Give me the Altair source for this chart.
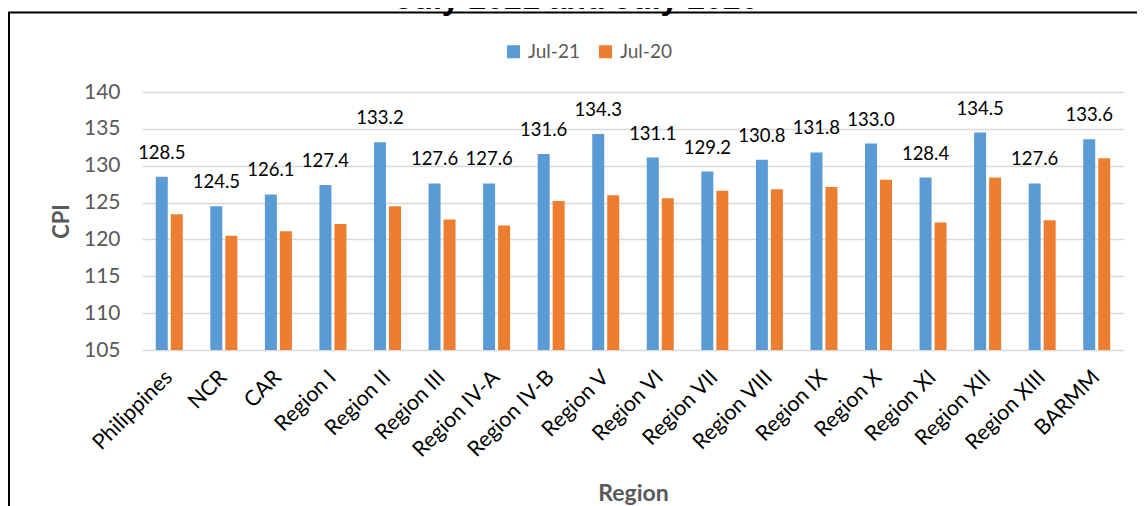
import altair as alt
import pandas as pd

regions = ["Philippines", "NCR", "CAR", "Region I", "Region II", "Region III",
           "Region IV-A", "Region IV-B", "Region V", "Region VI", "Region VII",
           "Region VIII", "Region IX", "Region X", "Region XI", "Region XII",
           "Region XIII", "BARMM"]
jul21 = [128.5, 124.5, 126.1, 127.4, 133.2, 127.6, 127.6, 131.6, 134.3, 131.1,
         129.2, 130.8, 131.8, 133.0, 128.4, 134.5, 127.6, 133.6]
jul20 = [123.4, 120.5, 121.1, 122.1, 124.5, 122.7, 121.9, 125.2, 126.0, 125.6,
         126.6, 126.8, 127.1, 128.1, 122.3, 128.4, 122.6, 131.0]
series = ["Jul-21", "Jul-20"]
colors = ["#5B9BD5", "#ED7D31"]
y_ticks = [105, 110, 115, 120, 125, 130, 135, 140]
title_text = "July 2021 and July 2020"

rows = []
for r, a, b in zip(regions, jul21, jul20):
    rows.append({"Region": r, "Series": "Jul-21", "CPI": a})
    rows.append({"Region": r, "Series": "Jul-20", "CPI": b})
df = pd.DataFrame(rows)

W, H = 982, 258
FONT = "Lato"
GREY = "#595959"

x_enc = alt.X("Region:N", sort=regions,
              scale=alt.Scale(paddingInner=0.45, paddingOuter=0.225),
              axis=alt.Axis(title="Region", labelAngle=-45, labelAlign="right",
                            labelBaseline="middle", labelPadding=24,
                            labelFontSize=21.5, labelColor="#000000",
                            ticks=False, domain=False, labelFont=FONT,
                            titleFont=FONT, titleFontSize=23, titleFontWeight="bold",
                            titleColor=GREY, titleY=150, titleBaseline="alphabetic"))
xo_enc = alt.XOffset("Series:N", sort=series,
                     scale=alt.Scale(domain=series, paddingInner=0.2, paddingOuter=0.1))
y_enc = alt.Y("CPI:Q",
              scale=alt.Scale(domain=[105, 140], nice=False, zero=False),
              axis=alt.Axis(title="CPI", values=y_ticks, ticks=False, domain=False,
                            grid=True, gridColor="#D9D9D9", gridWidth=1.3,
                            labelOverlap=False,
                            labelFontSize=21, labelColor=GREY, labelFont=FONT,
                            labelPadding=22, titleFont=FONT, titleFontSize=22,
                            titleFontWeight="bold", titleColor=GREY,
                            titleX=-74, titleBaseline="alphabetic"))

bars = alt.Chart(df).mark_bar(clip=True).encode(
    x=x_enc,
    xOffset=xo_enc,
    y=y_enc,
    color=alt.Color("Series:N", sort=series,
                    scale=alt.Scale(domain=series, range=colors),
                    legend=alt.Legend(title=None, orient="none", direction="horizontal",
                                      legendX=362, legendY=-50, symbolType="square",
                                      symbolSize=170, symbolStrokeWidth=0,
                                      labelFontSize=19, labelColor=GREY, labelFont=FONT,
                                      labelOffset=5, columnPadding=16)),
)

labels = alt.Chart(df).transform_filter(
    alt.datum.Series == "Jul-21"
).mark_text(baseline="alphabetic", dy=-18, fontSize=18.5, font=FONT, color="#000000").encode(
    x=x_enc,
    xOffset=xo_enc,
    y=y_enc,
    text=alt.Text("CPI:Q", format=".1f"),
)

frame = alt.Chart(pd.DataFrame({"k": [1]})).mark_rect(
    fillOpacity=0, stroke="#000000", strokeWidth=2
).encode(
    x=alt.value(-133), x2=alt.value(1200), y=alt.value(-79.5), y2=alt.value(700)
)

title = alt.Chart(pd.DataFrame({"t": [title_text]})).mark_text(
    font="Liberation Sans", fontWeight="bold", fontSize=32, baseline="alphabetic",
    align="center", color="#000000"
).encode(
    text="t:N", x=alt.value(435), y=alt.value(-83)
)

chart = alt.layer(frame, bars, labels, title).properties(
    width=W, height=H,
    autosize=alt.AutoSizeParams(type="none"),
    padding={"left": 134, "top": 84, "right": 13, "bottom": 157},
).configure(background="#FFFFFF").configure_view(stroke=None)

chart.save("out.html", embed_options={"renderer": "svg", "actions": False})
